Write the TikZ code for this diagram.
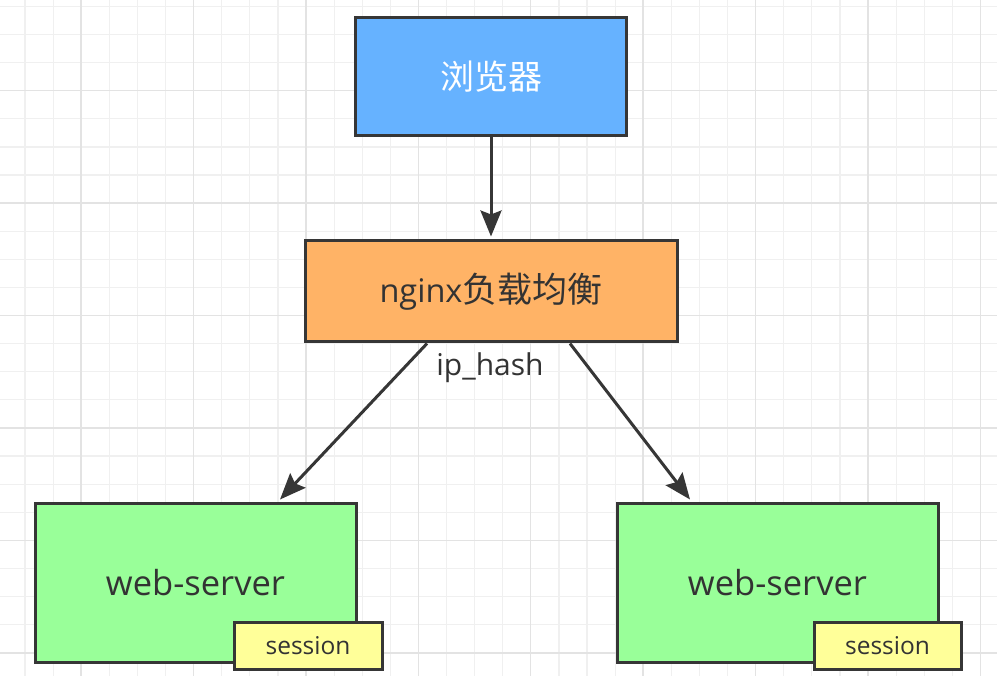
\documentclass[tikz,border=0pt]{standalone}
\usepackage{fontspec}
\setmainfont{Open Sans}
\newfontfamily\cjk{Noto Sans CJK SC}
\usetikzlibrary{arrows.meta,calc}
\definecolor{gridminor}{HTML}{F0F0F0}
\definecolor{gridmajor}{HTML}{E3E3E3}
\definecolor{boxline}{HTML}{363636}
\definecolor{txt}{HTML}{333333}
\definecolor{bluefill}{HTML}{66B2FF}
\definecolor{orangefill}{HTML}{FFB366}
\definecolor{greenfill}{HTML}{99FF99}
\definecolor{yellowfill}{HTML}{FFFF99}
\tikzset{
  box/.style={draw=boxline, line width=3pt, minimum width=#1, inner sep=0pt, text=txt},
  conn/.style={draw=boxline, line width=3pt, -{Stealth[length=26pt,width=21pt,inset=4pt]}},
}
\begin{document}
\begin{tikzpicture}[x=1pt,y=-1pt]
\useasboundingbox (0,0) rectangle (997,676);
\fill[white] (0,0) rectangle (997,676);
% grid
\foreach \i in {0,...,36} {
  \pgfmathsetmacro{\xx}{25+28.1*\i}
  \draw[gridminor, line width=1.2pt] (\xx,0) -- (\xx,676);
}
\foreach \i in {0,...,24} {
  \pgfmathsetmacro{\yy}{6.5+28.1*\i}
  \draw[gridminor, line width=1.2pt] (0,\yy) -- (997,\yy);
}
\foreach \i in {0,...,8} {
  \pgfmathsetmacro{\xx}{81+112.4*\i}
  \draw[gridmajor, line width=1.4pt] (\xx,0) -- (\xx,676);
}
\foreach \i in {0,...,5} {
  \pgfmathsetmacro{\yy}{90.8+112.4*\i}
  \draw[gridmajor, line width=1.4pt] (0,\yy) -- (997,\yy);
}
% nodes
\node[box=271pt, minimum height=118pt, fill=bluefill, text=white, font=\cjk\fontsize{34}{40}\selectfont] (browser) at (491,76.5) {浏览器};
\node[box=372pt, minimum height=101pt, fill=orangefill, font=\fontsize{32.5}{38}\selectfont] (nginx) at (491,291.5) {nginx{\cjk\fontsize{35}{38}\selectfont 负载均衡}};
\node[box=321pt, minimum height=159pt, fill=greenfill, font=\fontsize{34.5}{40}\selectfont] (webL) at (195.5,582.5) {web-server};
\node[box=321pt, minimum height=159pt, fill=greenfill, font=\fontsize{34.5}{40}\selectfont] (webR) at (777.5,582.5) {web-server};
\node[box=148pt, minimum height=47pt, fill=yellowfill, font=\fontsize{24.5}{28}\selectfont] (sessL) at (308,645.5) {session};
\node[box=147pt, minimum height=47pt, fill=yellowfill, font=\fontsize{24.5}{28}\selectfont] (sessR) at (887.5,645.5) {session};
\node[text=txt, font=\fontsize{30}{34}\selectfont, inner sep=0pt] (iphash) at (490,368) {ip\_hash};
% connectors
\draw[conn] (browser.south) -- ($(nginx.north)+(0,-3)$);
\draw[conn] ($(nginx.south)+(-64,0)$) -- ($(webL.north)+(84.5,-2)$);
\draw[conn] ($(nginx.south)+(79,0)$) -- ($(webR.north)+(-87.5,-2)$);
\end{tikzpicture}
\end{document}
